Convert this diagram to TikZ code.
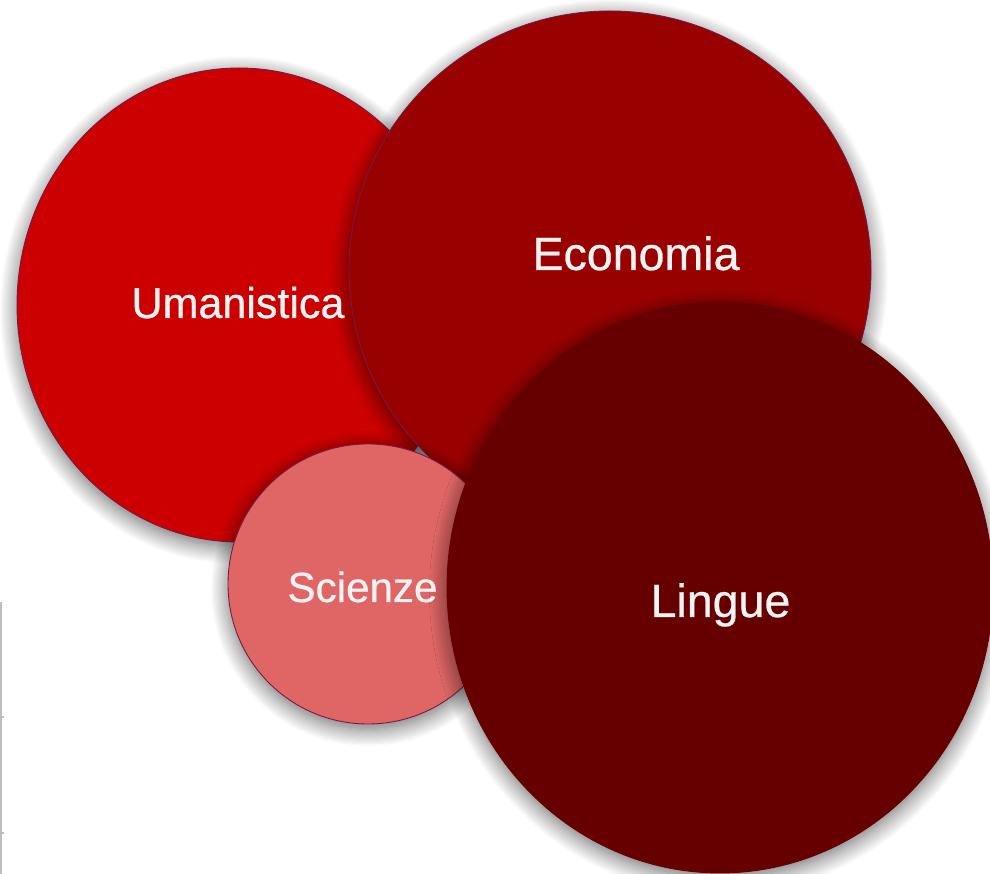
\documentclass[tikz,border=0pt]{standalone}
\usepackage{fontspec}
\setmainfont{Liberation Sans}
\newfontfamily\bubblefont[FakeBold=0.6]{Liberation Sans}
\usetikzlibrary{shadows.blur}
\definecolor{umanred}{HTML}{CC0000}
\definecolor{econred}{HTML}{990000}
\definecolor{lingred}{HTML}{660000}
\definecolor{scienred}{HTML}{E06666}
\definecolor{bubbleedge}{HTML}{741B47}
\definecolor{labelgrey}{HTML}{F3F3F3}
\definecolor{axisgrey}{HTML}{BDBDBD}
\tikzset{
  bubble/.style={draw=bubbleedge, line width=0.5pt,
    blur shadow={shadow xshift=0pt, shadow yshift=-3pt, shadow blur radius=10pt,
      shadow blur steps=16, shadow opacity=60}},
  bubblelabel/.style={text=labelgrey, anchor=base, inner sep=0pt},
  axisline/.style={draw=axisgrey, line width=1.4pt}
}

\begin{document}
\begin{tikzpicture}[x=0.02cm, y=0.02cm]
		%%%%% START %%%%%
		\useasboundingbox (0, 0) rectangle (990, 874);
		
		% axis remains on the left
		\draw[axisline] (1.2, 0) -- (1.2, 272);
		\draw[axisline] (0, 157) -- (3.5, 157);
		\draw[axisline] (0, 41) -- (3.5, 41);
		
		% bubbles, back to front
		\draw[bubble, fill=umanred] (239, 569) ellipse [x radius=222, y radius=237];
		\draw[bubble, fill=econred] (610, 604) ellipse [x radius=261, y radius=259];
		\draw[bubble, fill=scienred] (368, 290) ellipse [x radius=140, y radius=140];
		\draw[bubble, draw=lingred, fill=lingred] (720, 286.5) ellipse [x radius=273, y radius=285.5];
		
		% labels
		\node[bubblelabel, font=\bubblefont\fontsize{24.5}{28}\selectfont] (umanlabel) at (238, 556) {Umanistica};
		\node[bubblelabel, font=\bubblefont\fontsize{26.5}{30}\selectfont] (econlabel) at (636, 604) {Economia};
		\node[bubblelabel, font=\bubblefont\fontsize{24}{28}\selectfont] (scienlabel) at (362.5, 272) {Scienze};
		\node[bubblelabel, font=\bubblefont\fontsize{26.5}{30}\selectfont] (linglabel) at (720.5, 257) {Lingue};
		%%%%% END %%%%%
\end{tikzpicture}
\end{document}
